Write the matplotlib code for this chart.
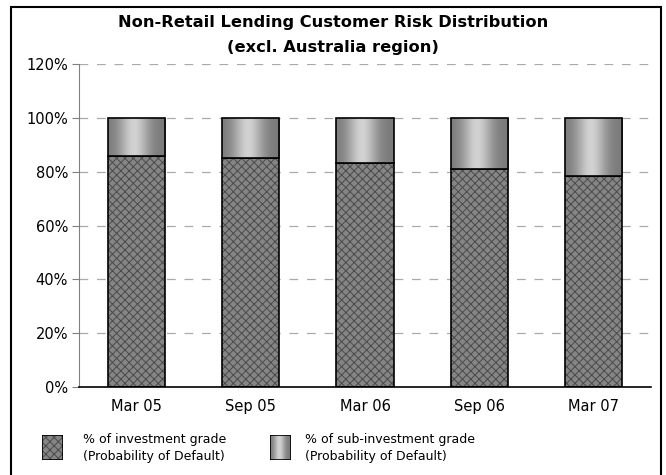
import matplotlib.pyplot as plt
import numpy as np
from matplotlib.patches import Rectangle

# data
periods = ['Mar 05', 'Sep 05', 'Mar 06', 'Sep 06', 'Mar 07']
invest_grade = [85.7, 85.2, 83.2, 81.1, 78.6]
sub_invest = [100 - v for v in invest_grade]
yticks = [0, 20, 40, 60, 80, 100, 120]

plt.rcParams['hatch.linewidth'] = 0.7
plt.rcParams['font.family'] = 'DejaVu Sans'

# horizontal shading used for the sub-investment part (dark edges, light middle)
t = np.linspace(0, 1, 64)
shade = np.exp(-((t - 0.45) / 0.26) ** 2)
shade = 0.48 + 0.34 * (shade - shade.min()) / (shade.max() - shade.min())
grad = np.tile(shade, (2, 1))


def hatched(ax, x, h, bottom, width):
    ax.bar(x, h, width, bottom=bottom, color='#858585', edgecolor='#4a4a4a',
           hatch='xxxx', linewidth=0)
    ax.bar(x, h, width, bottom=bottom, fill=False, edgecolor='black', linewidth=1.2)


def shaded(ax, x, h, bottom, width):
    bars = ax.bar(x, h, width, bottom=bottom, color='none', edgecolor='black',
                  linewidth=1.2, zorder=3)
    for b in bars:
        x0, y0 = b.get_x(), b.get_y()
        im = ax.imshow(grad, cmap='gray', vmin=0, vmax=1, aspect='auto',
                       extent=(x0, x0 + b.get_width(), y0, y0 + b.get_height()),
                       zorder=2, interpolation='bilinear')
        im.set_clip_path(b)


fig = plt.figure(figsize=(6.66, 4.75), dpi=100)
ax = fig.add_axes([0.1186, 0.1859, 0.859, 0.6787])

x = np.arange(len(periods))
w = 0.5
hatched(ax, x, invest_grade, 0, w)
shaded(ax, x, sub_invest, invest_grade, w)

ax.set_xlim(-0.5, len(periods) - 0.5)
ax.set_ylim(0, 120)
ax.set_yticks(yticks)
ax.set_yticklabels([f'{v}%' for v in yticks], fontsize=10.5)
ax.set_xticks(x)
ax.set_xticklabels(periods, fontsize=10.5)
ax.tick_params(axis='x', length=0, pad=9)
ax.tick_params(axis='y', length=5, color='#808080', pad=3)
for v in yticks[1:]:
    ax.axhline(v, color='#aaaaaa', linestyle=(0, (7, 7)), linewidth=0.9, zorder=0)
ax.spines['top'].set_visible(False)
ax.spines['right'].set_visible(False)
ax.spines['left'].set_color('#808080')
ax.spines['bottom'].set_color('black')
ax.spines['bottom'].set_linewidth(1.2)

fig.text(0.5, 0.952, 'Non-Retail Lending Customer Risk Distribution',
         ha='center', va='center', fontsize=11.7, fontweight='bold')
fig.text(0.5, 0.901, '(excl. Australia region)',
         ha='center', va='center', fontsize=11.7, fontweight='bold')

# legend swatches
lax1 = fig.add_axes([42 / 666, 1 - 460 / 475, 21 / 666, 25 / 475])
hatched(lax1, 0, 1, 0, 1)
lax2 = fig.add_axes([270 / 666, 1 - 460 / 475, 21 / 666, 25 / 475])
shaded(lax2, 0, 1, 0, 1)
for a in (lax1, lax2):
    a.set_xlim(-0.5, 0.5)
    a.set_ylim(0, 1)
    a.axis('off')
fig.text(83 / 666, 1 - 448 / 475, '% of investment grade\n(Probability of Default)',
         ha='left', va='center', fontsize=9, linespacing=1.4)
fig.text(305 / 666, 1 - 448 / 475, '% of sub-investment grade\n(Probability of Default)',
         ha='left', va='center', fontsize=9, linespacing=1.4)

# outer chart border
fig.patches.append(Rectangle((11 / 666, -0.05), 650 / 666, 1 - 7 / 475 + 0.05,
                             transform=fig.transFigure, fill=False,
                             edgecolor='black', linewidth=1.5))

fig.savefig('out.png', dpi=100)
